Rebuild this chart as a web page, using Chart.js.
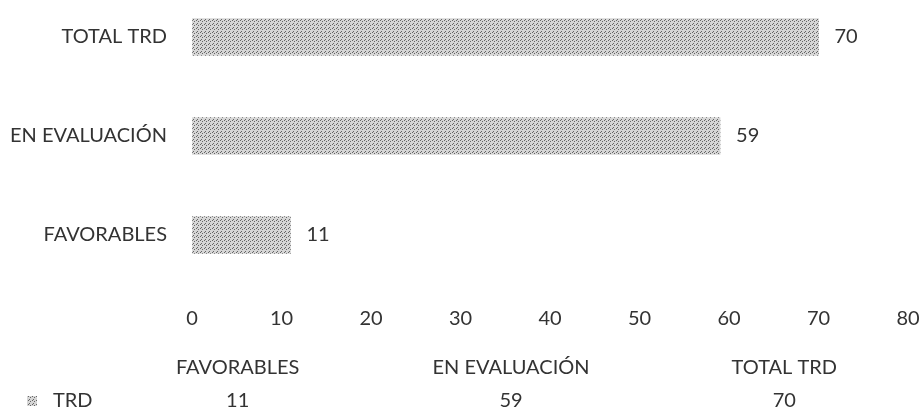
<!DOCTYPE html>
<html lang="es">
<head>
<meta charset="UTF-8" />
<title>TRD</title>
<script src="https://cdn.jsdelivr.net/npm/chart.js"></script>
<style>
  html, body { margin: 0; padding: 0; background: #fff; }
  #wrap { width: 922px; height: 411px; }
</style>
</head>
<body>
<div id="wrap"><canvas id="trdChart"></canvas></div>
<script>
const categories = ["TOTAL TRD", "EN EVALUACIÓN", "FAVORABLES"];
const trdValues = [70, 59, 11];
const tableCategories = ["FAVORABLES", "EN EVALUACIÓN", "TOTAL TRD"];
const tableValues = [11, 59, 70];
const seriesName = "TRD";

const FONT = "Lato, 'Open Sans', sans-serif";
const TEXT = "#333333";

// dotted grey fill, like the scanned original
function makePattern() {
  const c = document.createElement("canvas");
  c.width = 4; c.height = 4;
  const g = c.getContext("2d");
  g.fillStyle = "#d6d6d6";
  g.fillRect(0, 0, 4, 4);
  g.fillStyle = "#666666";
  g.fillRect(0, 0, 1, 1);
  g.fillRect(2, 1, 1, 1);
  g.fillRect(1, 3, 1, 1);
  return g.createPattern(c, "repeat");
}
const barFill = makePattern();

const valueLabels = {
  id: "valueLabels",
  afterDatasetsDraw(chart) {
    const ctx = chart.ctx;
    const meta = chart.getDatasetMeta(0);
    ctx.save();
    ctx.font = "20px " + FONT;
    ctx.fillStyle = TEXT;
    ctx.textBaseline = "middle";
    ctx.textAlign = "left";
    meta.data.forEach((bar, i) => {
      ctx.fillText(chart.data.datasets[0].data[i], bar.x + 16, bar.y);
    });
    ctx.restore();
  }
};

const dataTable = {
  id: "dataTable",
  afterDraw(chart) {
    const ctx = chart.ctx;
    const area = chart.chartArea;
    const left = area.left - 91;
    const colW = (chart.width - 1 - left) / tableCategories.length;
    const headY = area.bottom + 133;
    const valY = area.bottom + 166;
    ctx.save();
    ctx.font = "20px " + FONT;
    ctx.fillStyle = TEXT;
    ctx.textBaseline = "middle";
    ctx.textAlign = "center";
    tableCategories.forEach((name, i) => {
      const cx = left + colW * (i + 0.5);
      ctx.fillText(name, cx, headY);
      ctx.fillText(tableValues[i], cx, valY);
    });
    // legend key
    ctx.fillStyle = barFill;
    ctx.fillRect(27, valY - 5, 10, 10);
    ctx.fillStyle = TEXT;
    ctx.textAlign = "left";
    ctx.fillText(seriesName, 53, valY);
    ctx.restore();
  }
};

new Chart(document.getElementById("trdChart"), {
  type: "bar",
  data: {
    labels: categories,
    datasets: [{
      label: seriesName,
      data: trdValues,
      backgroundColor: barFill,
      borderWidth: 0,
      barThickness: 37,
      clip: false
    }]
  },
  options: {
    indexAxis: "y",
    responsive: true,
    maintainAspectRatio: false,
    animation: false,
    layout: { padding: { top: 29, right: 14, left: 0, bottom: 0 } },
    plugins: {
      legend: { display: false },
      tooltip: { enabled: false }
    },
    scales: {
      x: {
        min: 0,
        max: 80,
        ticks: {
          stepSize: 10,
          padding: 0,
          color: TEXT,
          font: { family: FONT, size: 20 }
        },
        grid: { display: true, color: "transparent", drawTicks: true, tickLength: 72 },
        border: { display: false },
        afterFit(scale) { scale.height = 176; }
      },
      y: {
        offset: false,
        ticks: {
          padding: 25,
          color: TEXT,
          font: { family: FONT, size: 20 }
        },
        grid: { display: false, drawTicks: false },
        border: { display: false },
        afterFit(scale) { scale.width = 192; }
      }
    }
  },
  plugins: [valueLabels, dataTable]
});
</script>
</body>
</html>
